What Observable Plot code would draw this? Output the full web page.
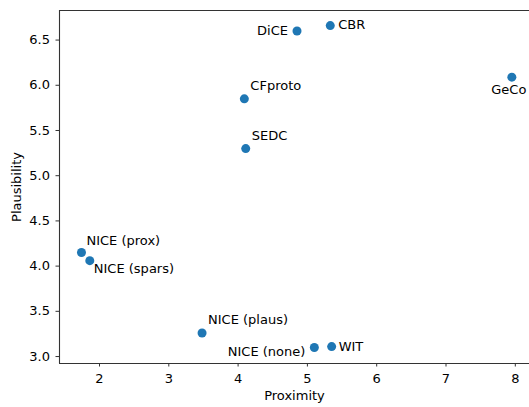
<!DOCTYPE html>
<html>
<head>
<meta charset="utf-8">
<script src="https://cdn.jsdelivr.net/npm/d3@7"></script>
<script src="https://cdn.jsdelivr.net/npm/@observablehq/plot@0.6"></script>
<style>
  html, body { margin: 0; padding: 0; background: #fff; }
  svg { display: block; }
</style>
</head>
<body>
<div id="chart"></div>
<script>
// Data
const methods = ["DiCE", "CBR", "GeCo", "CFproto", "SEDC", "NICE (prox)", "NICE (spars)", "NICE (plaus)", "NICE (none)", "WIT"];
const proximity = [4.85, 5.33, 7.95, 4.09, 4.11, 1.74, 1.86, 3.48, 5.10, 5.35];
const plausibility = [6.60, 6.66, 6.09, 5.85, 5.30, 4.15, 4.06, 3.26, 3.10, 3.11];
const xTicks = [2, 3, 4, 5, 6, 7, 8];
const yTicks = [3.0, 3.5, 4.0, 4.5, 5.0, 5.5, 6.0, 6.5];

const rows = methods.map((m, i) => ({method: m, x: proximity[i], y: plausibility[i]}));

// label placement (style)
const place = {
  "DiCE": {anchor: "end", dx: -9, dy: 0},
  "CBR": {anchor: "start", dx: 8, dy: -1},
  "GeCo": {anchor: "middle", dx: -3, dy: 13},
  "CFproto": {anchor: "start", dx: 6, dy: -13},
  "SEDC": {anchor: "start", dx: 6, dy: -13},
  "NICE (prox)": {anchor: "start", dx: 5, dy: -12},
  "NICE (spars)": {anchor: "start", dx: 4, dy: 8},
  "NICE (plaus)": {anchor: "start", dx: 6, dy: -13},
  "NICE (none)": {anchor: "end", dx: -9, dy: 4},
  "WIT": {anchor: "start", dx: 7, dy: 0}
};

const xDomain = [1.4228, 8.2049];
const yDomain = [2.923, 6.827];
const font = "DejaVu Sans, sans-serif";

const textMarks = ["start", "middle", "end"].map(a =>
  rows.filter(r => place[r.method].anchor === a).map(r =>
    Plot.text([r], {x: "x", y: "y", text: "method", textAnchor: a,
      dx: place[r.method].dx, dy: place[r.method].dy, fill: "#000", fontSize: 13})
  )
).flat();

const chart = Plot.plot({
  width: 529,
  height: 407,
  marginLeft: 59,
  marginRight: 0,
  marginTop: 10,
  marginBottom: 44,
  style: {fontFamily: font, fontSize: "13px", color: "#000", background: "#fff"},
  x: {domain: xDomain},
  y: {domain: yDomain},
  marks: [
    Plot.ruleX([xDomain[0]], {stroke: "#333", strokeWidth: 1.1}),
    Plot.ruleY([yDomain[0], yDomain[1]], {stroke: "#333", strokeWidth: 1.1}),
    Plot.axisX(xTicks, {tickSize: 3.5, tickPadding: 7, fontSize: 13, stroke: "#333",
      label: "Proximity", labelAnchor: "center", labelArrow: "none", labelOffset: 36}),
    Plot.axisY(yTicks, {tickSize: 3.5, tickPadding: 6, fontSize: 13, stroke: "#333",
      tickFormat: d3.format(".1f"),
      label: "Plausibility", labelAnchor: "center", labelArrow: "none", labelOffset: 48}),
    Plot.dot(rows, {x: "x", y: "y", r: 4.5, fill: "#1f77b4", stroke: "none"}),
    ...textMarks
  ]
});

document.getElementById("chart").appendChild(chart);
</script>
</body>
</html>
